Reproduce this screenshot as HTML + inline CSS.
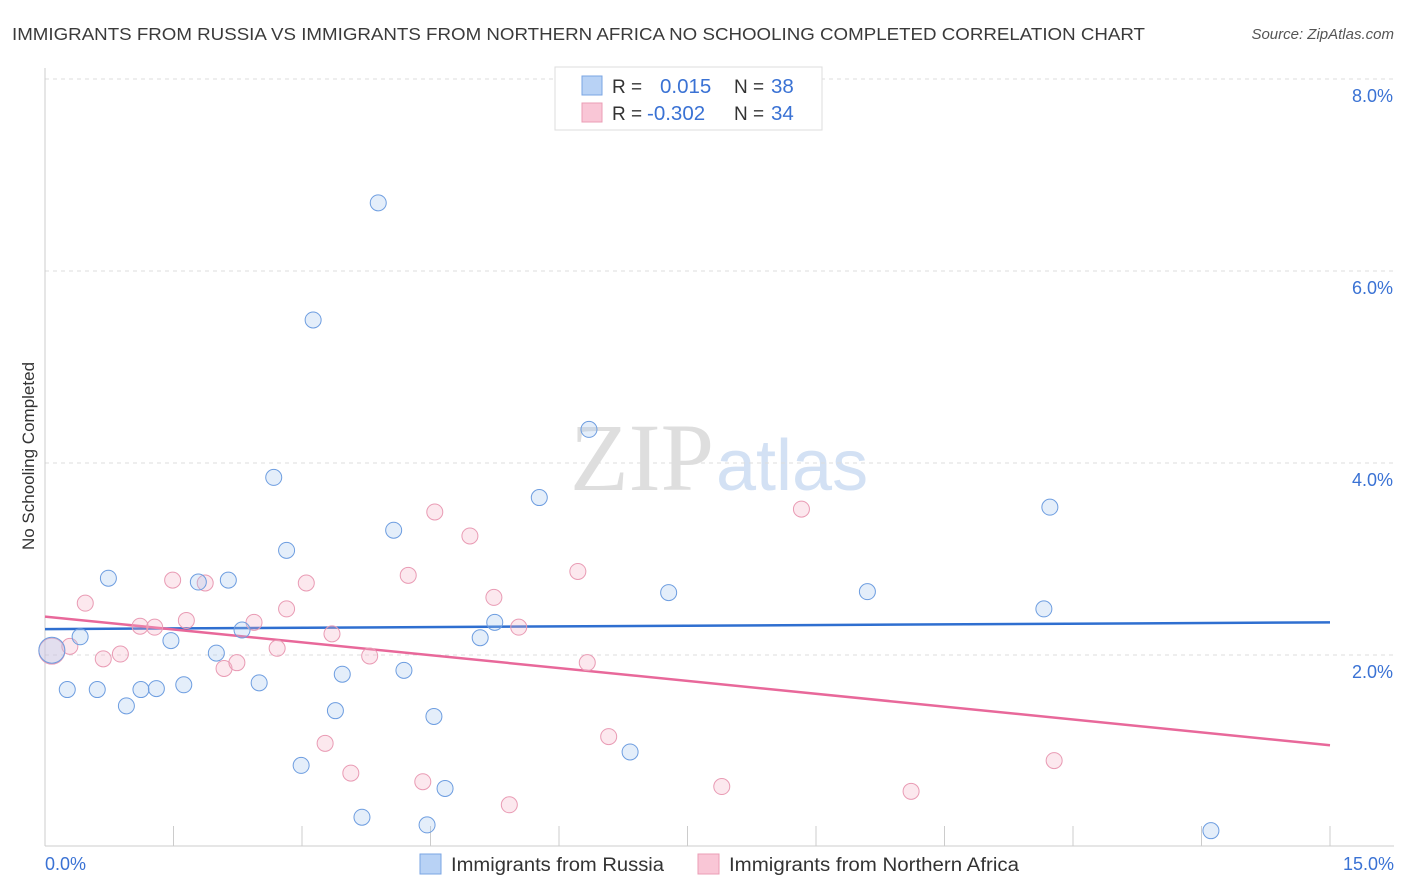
<!DOCTYPE html>
<html><head><meta charset="utf-8">
<style>
body{margin:0;background:#fff;font-family:"Liberation Sans",sans-serif;}
svg{display:block}
</style></head>
<body>
<svg id="chart" width="1406" height="892">
<text x="12" y="40" font-size="17.5" fill="#3a3a3a" textLength="1133" lengthAdjust="spacingAndGlyphs">IMMIGRANTS FROM RUSSIA VS IMMIGRANTS FROM NORTHERN AFRICA NO SCHOOLING COMPLETED CORRELATION CHART</text>
<text x="1394" y="39" font-size="15" fill="#555" font-style="italic" text-anchor="end">Source: ZipAtlas.com</text>
<text x="714" y="490" font-size="96" fill="#dedede" text-anchor="end" font-family="Liberation Serif,serif">ZIP</text>
<text x="716" y="490" font-size="72" fill="#d3e1f4">atlas</text>
<text transform="translate(34,456) rotate(-90)" font-size="17" fill="#333" text-anchor="middle">No Schooling Completed</text>
<g id="grid"></g><g id="axes"></g><g id="lines"></g><g id="pts"></g>
<g>
<rect x="555" y="67" width="267" height="63" fill="#fff" stroke="#ddd"/>
<rect x="582" y="76" width="20" height="19" fill="#b8d2f5" stroke="#7aa5e3"/>
<rect x="582" y="103" width="20" height="19" fill="#f9c6d6" stroke="#eb9db5"/>
<text x="612" y="93" font-size="19" fill="#333">R =</text>
<text x="660" y="93" font-size="20.5" fill="#3a72d4">0.015</text>
<text x="734" y="93" font-size="19" fill="#333">N =</text>
<text x="771" y="93" font-size="20.5" fill="#3a72d4">38</text>
<text x="612" y="120" font-size="19" fill="#333">R =</text>
<text x="647" y="120" font-size="20.5" fill="#3a72d4">-0.302</text>
<text x="734" y="120" font-size="19" fill="#333">N =</text>
<text x="771" y="120" font-size="20.5" fill="#3a72d4">34</text>
</g>
<g>
<rect x="420" y="854" width="21" height="20" fill="#b8d2f5" stroke="#7aa5e3"/>
<text x="451" y="871" font-size="19" fill="#333" textLength="213" lengthAdjust="spacingAndGlyphs">Immigrants from Russia</text>
<rect x="698" y="854" width="21" height="20" fill="#f9c6d6" stroke="#eb9db5"/>
<text x="729" y="871" font-size="19" fill="#333" textLength="290" lengthAdjust="spacingAndGlyphs">Immigrants from Northern Africa</text>
</g>
</svg>
<script>
const xTicks=[0,1.5,3,4.5,6,7.5,9,10.5,12,13.5,15];
const yTicks=[2,4,6,8];
const yTickLabels=["2.0%","4.0%","6.0%","8.0%"];
const russiaX=[0.08,0.26,0.41,0.61,0.74,0.95,1.12,1.30,1.47,1.62,1.79,2.00,2.14,2.30,2.50,2.67,2.82,2.99,3.13,3.39,3.47,3.70,3.89,4.07,4.19,4.46,4.54,4.67,5.08,5.25,5.77,6.35,6.83,7.28,9.60,11.66,11.73,13.61];
const russiaY=[2.05,1.64,2.19,1.64,2.80,1.47,1.64,1.65,2.15,1.69,2.76,2.02,2.78,2.26,1.71,3.85,3.09,0.85,5.49,1.42,1.80,0.31,6.71,3.30,1.84,0.23,1.36,0.61,2.18,2.34,3.64,4.35,0.99,2.65,2.66,2.48,3.54,0.17];
const africaX=[0.08,0.29,0.47,0.68,0.88,1.11,1.28,1.49,1.65,1.87,2.09,2.24,2.44,2.71,2.82,3.05,3.27,3.35,3.57,3.79,4.24,4.41,4.55,4.96,5.24,5.42,5.53,6.22,6.33,6.58,7.90,8.83,10.11,11.78];
const africaY=[2.04,2.09,2.54,1.96,2.01,2.30,2.29,2.78,2.36,2.75,1.86,1.92,2.34,2.07,2.48,2.75,1.08,2.22,0.77,1.99,2.83,0.68,3.49,3.24,2.60,0.44,2.29,2.87,1.92,1.15,0.63,3.52,0.58,0.90];
const russiaTrend=[2.27,2.34];
const africaTrend=[2.40,1.06];
const NS='http://www.w3.org/2000/svg';
const sx=v=>45+v/15*1285;
const sy=v=>847-v*96;
function mk(t,a,p){const e=document.createElementNS(NS,t);for(const k in a)e.setAttribute(k,a[k]);p.appendChild(e);return e;}
const grid=document.getElementById('grid'),axes=document.getElementById('axes'),lines=document.getElementById('lines'),pts=document.getElementById('pts');
yTicks.forEach((v,i)=>{
 const l=mk('line',{x1:45,x2:1394,y1:sy(v),y2:sy(v),stroke:'#ddd','stroke-dasharray':'4,4'},grid);
 
 
 const t=mk('text',{x:1393,y:sy(v)+23,'font-size':18,fill:'#3a72d4','text-anchor':'end'},grid);
 t.textContent=yTickLabels[i];
 
 
});
const xa=mk('line',{x1:45,x2:1394,y1:846,y2:846,stroke:'#ccc'},axes);


const ya=mk('line',{x1:45,x2:45,y1:68,y2:846,stroke:'#ccc'},axes);


xTicks.forEach(v=>{
 const t=mk('line',{x1:sx(v),x2:sx(v),y1:826,y2:846,stroke:'#ccc'},axes);
 
 
});
const xl0=mk('text',{x:45,y:870,'font-size':18,fill:'#3a72d4'},axes);xl0.textContent='0.0%';


const xl1=mk('text',{x:1394,y:870,'font-size':18,fill:'#3a72d4','text-anchor':'end'},axes);xl1.textContent='15.0%';


function dots(X,Y,fill,stroke,name){
 X.forEach((x,i)=>{
  const big=i===0;
  const c=mk('circle',{cx:sx(x),cy:sy(Y[i]),r:big?13:8,fill:fill,stroke:stroke,'stroke-width':1},pts);
  
  
 });
}
dots(africaX,africaY,'rgba(246,180,200,0.3)','#e99bb4','point-northern-africa');
dots(russiaX,russiaY,'rgba(165,198,240,0.3)','#6d9de0','point-russia');
const l1=mk('line',{x1:sx(0),x2:sx(15),y1:sy(russiaTrend[0]),y2:sy(russiaTrend[1]),stroke:'#2f6fd0','stroke-width':2.5},lines);


const l2=mk('line',{x1:sx(0),x2:sx(15),y1:sy(africaTrend[0]),y2:sy(africaTrend[1]),stroke:'#e8689a','stroke-width':2.5},lines);


</script>
</body></html>
